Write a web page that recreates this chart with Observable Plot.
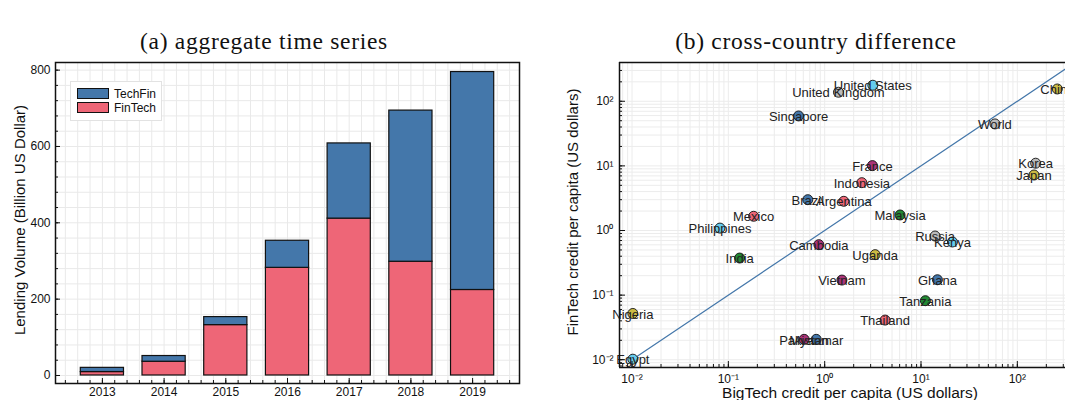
<!DOCTYPE html>
<html><head><meta charset="utf-8">
<script src="https://cdn.jsdelivr.net/npm/d3@7"></script>
<script src="https://cdn.jsdelivr.net/npm/@observablehq/plot@0.6"></script>
<style>
html,body{margin:0;padding:0;background:#fff;overflow:hidden;width:1065px;height:400px;}
#wrap{position:relative;width:1065px;height:400px;overflow:hidden;background:#fff;}
.abs{position:absolute;}
.title{font-family:"Liberation Serif","DejaVu Serif",serif;font-size:23.5px;letter-spacing:0.7px;color:#111;white-space:nowrap;transform:translate(-50%,-50%);line-height:1;}
.lab{font-family:"Liberation Sans",Arial,sans-serif;font-size:15px;color:#111;white-space:nowrap;transform:translate(-50%,-50%);line-height:1;}
.rot{transform:translate(-50%,-50%) rotate(-90deg);}
#legend{left:70px;top:81px;width:92px;height:40px;border:1px solid #e2e2e2;background:#fff;box-sizing:border-box;}
.sw{position:absolute;left:6px;width:32px;height:11px;border:1px solid #111;box-sizing:border-box;}
.lt{position:absolute;left:43px;font-family:"Liberation Sans",Arial,sans-serif;font-size:12px;color:#111;line-height:12px;}
</style></head><body><div id="wrap">
<div id="left" class="abs" style="left:0;top:0"></div>
<div id="right" class="abs" style="left:560px;top:0"></div>
<div class="abs title" style="left:264px;top:42px">(a) aggregate time series</div>
<div class="abs title" style="left:816px;top:42px">(b) cross-country difference</div>
<div class="abs lab rot" style="left:19px;top:220px">Lending Volume (Billion US Dollar)</div>
<div class="abs lab rot" style="left:572px;top:212px">FinTech credit per capita (US dollars)</div>
<div class="abs lab" style="left:850px;top:393px;font-size:15.5px">BigTech credit per capita (US dollars)</div>
<div id="legend" class="abs">
  <div class="sw" style="top:6px;background:#4477AA"></div><div class="lt" style="top:6px">TechFin</div>
  <div class="sw" style="top:20px;background:#EE6677"></div><div class="lt" style="top:20px">FinTech</div>
</div>
</div>
<script>
// ---- panel (a) data ----
const years = [2013, 2014, 2015, 2016, 2017, 2018, 2019];
const fintechVolume = [9, 36, 132, 282, 411, 298, 224];
const techfinVolume = [11, 15, 21, 71, 197, 396, 571];
const yTicksA = [0, 200, 400, 600, 800];

// ---- panel (b) data ----
const countries = ["United States","United Kingdom","Singapore","World","China","Korea","Japan","France","Indonesia","Brazil","Argentina","Malaysia","Mexico","Philippines","Russia","Kenya","Cambodia","Uganda","India","Vietnam","Ghana","Tanzania","Nigeria","Thailand","Pakistan","Myanmar","Egypt"];
const bigtechPC = [3.16, 1.39, 0.536, 58.6, 260, 155, 149, 3.13, 2.43, 0.668, 1.58, 6.06, 0.183, 0.0818, 14.0, 21.2, 0.87, 3.34, 0.131, 1.51, 14.8, 11.1, 0.0102, 4.24, 0.612, 0.817, 0.0102];
const fintechPC = [177, 138, 59.3, 44.6, 155, 11.0, 7.23, 10.1, 5.5, 3.0, 2.83, 1.74, 1.66, 1.09, 0.822, 0.664, 0.604, 0.423, 0.375, 0.171, 0.173, 0.082, 0.052, 0.0411, 0.0207, 0.0207, 0.0102];
const pointColors = ["#66CCEE","#BBBBBB","#4477AA","#BBBBBB","#CCBB44","#BBBBBB","#CCBB44","#AA3377","#EE6677","#4477AA","#EE6677","#228833","#EE6677","#66CCEE","#BBBBBB","#66CCEE","#AA3377","#CCBB44","#228833","#AA3377","#4477AA","#228833","#CCBB44","#EE6677","#AA3377","#4477AA","#66CCEE"];

const font = '"Liberation Sans", Arial, sans-serif';

// ---------- Panel (a) ----------
{
  const W = 530, H = 400, mL = 55, mR = 11, mT = 62, mB = 17;
  const fw = W - mL - mR, fh = H - mT - mB;
  const rows = years.flatMap((yr, i) => [
    {year: yr, series: "FinTech", y1: 0, y2: fintechVolume[i]},
    {year: yr, series: "TechFin", y1: fintechVolume[i], y2: fintechVolume[i] + techfinVolume[i]}
  ]);
  const yMinor = d3.range(0, 801, 40);
  const xMinor = d3.range(0, 37).map(i => Math.round((2012.4 + i * 0.2) * 10) / 10);
  const chart = Plot.plot({
    width: W, height: H, marginLeft: mL, marginRight: mR, marginTop: mT, marginBottom: mB,
    style: {fontFamily: font, fontSize: "12px", color: "#111", background: "transparent"},
    x: {type: "linear", domain: [2012.24, 2019.76]},
    y: {domain: [-21, 820]},
    marks: [
      Plot.ruleY(yMinor, {y: d => d, stroke: "#e9e9e9", strokeWidth: 1}),
      Plot.ruleX(xMinor, {x: d => d, stroke: "#e9e9e9", strokeWidth: 1}),
      Plot.rectY(rows, {x1: d => d.year - 0.35, x2: d => d.year + 0.35, y1: "y1", y2: "y2",
        fill: d => d.series === "FinTech" ? "#EE6677" : "#4477AA", stroke: "#111", strokeWidth: 1.2}),
      Plot.tickY(yMinor, {y: d => d, insetRight: fw - 3, stroke: "#111"}),
      Plot.tickY(yTicksA, {y: d => d, insetRight: fw - 5, stroke: "#111"}),
      Plot.tickX(xMinor, {x: d => d, insetTop: fh - 3, stroke: "#111"}),
      Plot.tickX(years, {x: d => d, insetTop: fh - 5, stroke: "#111"}),
      Plot.frame({stroke: "#111", strokeWidth: 1.5}),
      Plot.axisY(yTicksA, {tickSize: 0, tickPadding: 5, fontSize: 12, label: null}),
      Plot.axisX(years, {tickSize: 0, tickPadding: 4, fontSize: 12, label: null, tickFormat: d => String(d)})
    ]
  });
  document.getElementById("left").appendChild(chart);
}

// ---------- Panel (b) ----------
{
  const W = 505, H = 400, mL = 59, mR = 0, mT = 62, mB = 33;
  const fw = W - mL - mR, fh = H - mT - mB;
  const xd = [Math.pow(10, -2.13), Math.pow(10, 2.5)];
  const yd = [Math.pow(10, -2.12), Math.pow(10, 2.6)];
  const majors = [0.01, 0.1, 1, 10, 100];
  const minorsIn = (d) => {
    const out = [];
    for (let e = -3; e <= 3; e++) for (let m = 1; m <= 9; m++) {
      const v = m * Math.pow(10, e);
      if (v >= d[0] && v <= d[1]) out.push(v);
    }
    return out;
  };
  const xMinor = minorsIn(xd), yMinor = minorsIn(yd);
  const sup = {"-": "\u207B", "0": "\u2070", "1": "\u00B9", "2": "\u00B2", "3": "\u00B3"};
  const fmt = d => "10" + String(Math.round(Math.log10(d))).split("").map(c => sup[c]).join("");
  const pts = countries.map((c, i) => ({name: c, x: bigtechPC[i], y: fintechPC[i], color: pointColors[i]}));
  const diag = [[0.01, 0.01], [1000, 1000]];
  const chart = Plot.plot({
    width: W, height: H, marginLeft: mL, marginRight: mR, marginTop: mT, marginBottom: mB,
    style: {fontFamily: font, fontSize: "12px", color: "#111", background: "transparent"},
    x: {type: "log", domain: xd},
    y: {type: "log", domain: yd},
    marks: [
      Plot.ruleY(yMinor, {y: d => d, stroke: "#ececec", strokeWidth: 1}),
      Plot.ruleX(xMinor, {x: d => d, stroke: "#ececec", strokeWidth: 1}),
      Plot.line(diag, {x: d => d[0], y: d => d[1], stroke: "#4477AA", strokeWidth: 1.2, clip: true}),
      Plot.dot(pts, {x: "x", y: "y", r: 5, fill: "color", stroke: "#111", strokeWidth: 0.9}),
      Plot.text(pts, {x: "x", y: "y", text: "name", fontSize: 13, fill: "#222", dy: 1}),
      Plot.tickY(yMinor, {y: d => d, insetRight: fw - 3, stroke: "#111"}),
      Plot.tickY(majors, {y: d => d, insetRight: fw - 6, stroke: "#111"}),
      Plot.tickX(xMinor, {x: d => d, insetTop: fh - 3, stroke: "#111"}),
      Plot.tickX(majors, {x: d => d, insetTop: fh - 6, stroke: "#111"}),
      Plot.ruleX([xd[0]], {stroke: "#111", strokeWidth: 1.5}),
      Plot.ruleY([yd[0], yd[1]], {stroke: "#111", strokeWidth: 1.5}),
      Plot.axisY(majors, {tickSize: 0, tickPadding: 6, fontSize: 12, label: null, tickFormat: fmt}),
      Plot.axisX(majors, {tickSize: 0, tickPadding: 7, fontSize: 12, label: null, tickFormat: fmt})
    ]
  });
  document.getElementById("right").appendChild(chart);
}
</script>
</body></html>
